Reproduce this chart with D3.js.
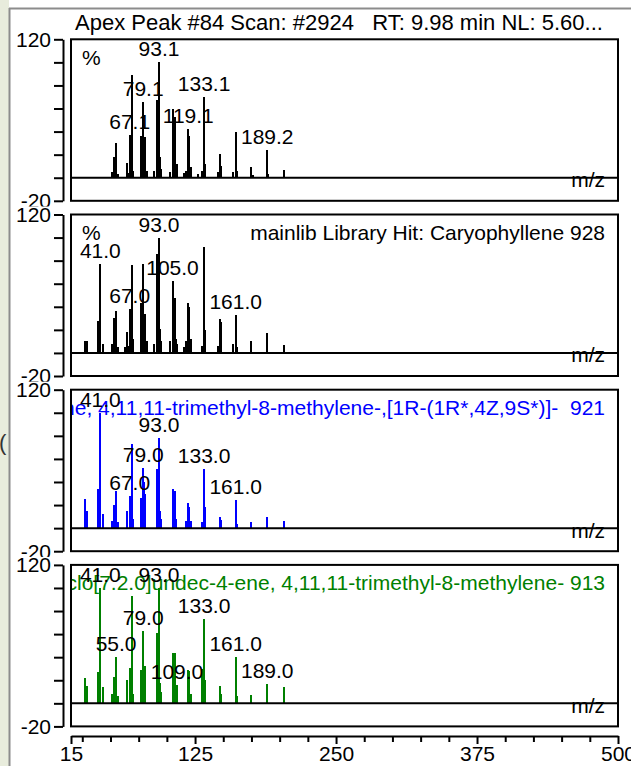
<!DOCTYPE html>
<html>
<head>
<meta charset="utf-8">
<script src="https://cdn.jsdelivr.net/npm/d3@7"></script>
<style>
  html, body { margin: 0; padding: 0; background: #fff; }
  svg { display: block; font-family: "Liberation Sans", Arial, sans-serif; }
</style>
</head>
<body>
<script>
// measured scan (apex peak #84)
const scanMz  = [51, 53, 55, 57, 65, 66, 67, 68, 69, 70, 77, 78, 79, 80, 81, 82, 89, 91, 92, 93, 94, 95,
                 103, 105, 106, 107, 108, 109, 115, 117, 119, 120, 121, 128, 131, 133, 134, 145, 147, 148,
                 159, 161, 162, 175, 176, 189, 190, 204, 205, 220, 243];
const scanInt = [5, 18, 30, 3, 13, 4, 37, 8, 89, 6, 36, 10, 66, 13, 35, 6, 6, 67, 14, 100, 18, 8,
                 5, 60, 12, 53, 7, 12, 4, 6, 42, 36, 9, 3, 6, 70, 12, 5, 21, 10,
                 5, 40, 6, 9, 2, 24, 3, 7, 1, 1, 1];
const scanLabels = ["67.1", "79.1", "93.1", "119.1", "133.1", "189.2"];

// mainlib hit: Caryophyllene
const libMz  = [27, 29, 39, 41, 43, 51, 53, 55, 57, 63, 65, 66, 67, 68, 69, 70, 77, 78, 79, 80, 81, 82,
                89, 91, 92, 93, 94, 95, 103, 105, 106, 107, 108, 109, 115, 117, 119, 120, 121,
                131, 133, 134, 145, 147, 148, 159, 161, 162, 175, 189, 204];
const libInt = [10, 10, 28, 77, 8, 8, 30, 36, 5, 5, 18, 6, 38, 12, 76, 12, 43, 12, 77, 28, 34, 10,
                8, 86, 22, 100, 21, 10, 10, 62, 20, 48, 12, 8, 5, 10, 43, 40, 12,
                6, 92, 20, 6, 29, 27, 8, 33, 5, 10, 17, 7];
const libLabels = ["41.0", "67.0", "93.0", "105.0", "161.0"];

// second hit (blue)
const hitAMz  = [27, 29, 39, 41, 43, 51, 53, 55, 57, 65, 67, 68, 69, 70, 77, 78, 79, 80, 81, 91, 92, 93, 94, 95,
                 105, 106, 107, 108, 117, 119, 120, 121, 131, 133, 134, 147, 148, 161, 162, 175, 189, 204];
const hitAInt = [25, 15, 34, 100, 12, 6, 20, 32, 5, 15, 28, 8, 73, 8, 26, 8, 52, 40, 30, 51, 14, 78, 15, 8,
                 34, 15, 32, 8, 6, 22, 18, 6, 5, 51, 18, 10, 7, 24, 4, 5, 10, 6];
const hitALabels = ["41.0", "67.0", "79.0", "93.0", "133.0", "161.0"];

// third hit (green)
const hitBMz  = [27, 29, 39, 41, 43, 51, 53, 55, 57, 65, 67, 68, 69, 70, 77, 78, 79, 80, 81, 91, 92, 93, 94, 95,
                 105, 106, 107, 108, 109, 119, 120, 121, 131, 133, 134, 147, 148, 161, 162, 175, 189, 204];
const hitBInt = [22, 15, 27, 100, 14, 8, 23, 40, 6, 20, 31, 10, 93, 8, 29, 10, 63, 30, 32, 61, 16, 100, 18, 10,
                 44, 14, 44, 10, 16, 29, 28, 8, 30, 73, 20, 15, 8, 40, 6, 7, 17, 14];
const hitBLabels = ["41.0", "55.0", "79.0", "93.0", "109.0", "133.0", "161.0", "189.0"];

const titleText = "Apex Peak #84 Scan: #2924   RT: 9.98 min NL: 5.60...";
const headers = [
  "",
  "mainlib Library Hit: Caryophyllene 928",
  "Bicyclo[7.2.0]undec-4-ene, 4,11,11-trimethyl-8-methylene-,[1R-(1R*,4Z,9S*)]-  921",
  "Bicyclo[7.2.0]undec-4-ene, 4,11,11-trimethyl-8-methylene- 913"
];
const colors = ["#000000", "#000000", "#0000ff", "#008000"];

const yTicks = [120, 100, 80, 60, 40, 20, 0, -20];
const yTickLabels = [120, -20];
const xTicks = [15, 25, 50, 75, 100, 125, 150, 175, 200, 225, 250, 275, 300, 325, 350, 375, 400, 425, 450, 475, 500];
const xTickLabels = [15, 125, 250, 375, 500];

const panels = [
  { mz: scanMz, inten: scanInt, labels: scanLabels },
  { mz: libMz, inten: libInt, labels: libLabels },
  { mz: hitAMz, inten: hitAInt, labels: hitALabels },
  { mz: hitBMz, inten: hitBInt, labels: hitBLabels }
];

const width = 631, height = 766;
const left = 71, right = 618, axisX = 63;
const panelTop0 = 39.3, panelStep = 175.2, panelH = 161.5;

const svg = d3.select("body").append("svg")
  .attr("width", width)
  .attr("height", height);

svg.append("rect").attr("width", width).attr("height", height).attr("fill", "#fff");

// window chrome at the left / top
svg.append("rect").attr("x", 0).attr("y", 0).attr("width", 9).attr("height", height).attr("fill", "#e8ecdc");
svg.append("line").attr("x1", 9.5).attr("x2", 9.5).attr("y1", 8).attr("y2", height)
  .attr("stroke", "#8c8c8c").attr("stroke-width", 2);
svg.append("line").attr("x1", 9).attr("x2", width).attr("y1", 8.5).attr("y2", 8.5)
  .attr("stroke", "#8c8c8c").attr("stroke-width", 2);
svg.append("text").attr("x", -1).attr("y", 450).attr("font-size", 22).attr("fill", "#333").text("(");

const x = d3.scaleLinear().domain([15, 500]).range([left, right]);

svg.append("text")
  .attr("x", 75).attr("y", 30)
  .attr("font-size", 22)
  .style("white-space", "pre")
  .text(titleText);

panels.forEach((p, i) => {
  const top = panelTop0 + i * panelStep;
  const y = d3.scaleLinear().domain([-20, 120]).range([top + panelH, top]);
  const g = svg.append("g");

  g.append("clipPath").attr("id", "clip" + i)
    .append("rect").attr("x", left).attr("y", top).attr("width", right - left).attr("height", panelH);

  const inner = g.append("g").attr("clip-path", `url(#clip${i})`);

  if (headers[i]) {
    inner.append("text")
      .attr("x", 605).attr("y", top + 25.5)
      .attr("text-anchor", "end")
      .attr("font-size", 21)
      .attr("fill", colors[i])
      .style("white-space", "pre")
      .text(headers[i]);
  }
  if (i < 2) {
    inner.append("text").attr("x", 82).attr("y", top + 25.5).attr("font-size", 21).text("%");
  }

  inner.append("g")
    .attr("stroke", colors[i])
    .attr("stroke-width", 2)
    .attr("shape-rendering", "crispEdges")
    .selectAll("line")
    .data(d3.zip(p.mz, p.inten))
    .join("line")
    .attr("x1", d => x(d[0])).attr("x2", d => x(d[0]))
    .attr("y1", y(0)).attr("y2", d => y(d[1]));

  inner.append("line")
    .attr("x1", left).attr("x2", right).attr("y1", y(0)).attr("y2", y(0))
    .attr("stroke", "#000").attr("stroke-width", 2);

  inner.append("text")
    .attr("x", 605).attr("y", y(0) + 9.5)
    .attr("text-anchor", "end").attr("font-size", 21)
    .text("m/z");

  inner.selectAll("text.lbl")
    .data(p.labels)
    .join("text")
    .attr("class", "lbl")
    .attr("x", d => x(Math.round(+d)))
    .attr("y", d => {
      const k = p.mz.indexOf(Math.round(+d));
      return y(p.inten[k]) - 6;
    })
    .attr("text-anchor", "middle")
    .attr("font-size", 21)
    .text(d => d);

  g.append("rect")
    .attr("x", left).attr("y", top).attr("width", right - left).attr("height", panelH)
    .attr("fill", "none").attr("stroke", "#000").attr("stroke-width", 2);

  const yAxis = g.append("g")
    .attr("transform", `translate(${axisX},0)`)
    .call(d3.axisLeft(y).tickValues(yTicks).tickSize(9).tickSizeOuter(0).tickFormat(""));
  yAxis.selectAll("path, line").attr("stroke", "#000").attr("stroke-width", 2);

  yTickLabels.forEach(v => {
    g.append("rect")
      .attr("x", 13).attr("y", y(v) - 8).attr("width", 38).attr("height", 15)
      .attr("fill", "#fff");
    g.append("text")
      .attr("x", 51).attr("y", y(v))
      .attr("dy", "0.35em")
      .attr("text-anchor", "end")
      .attr("font-size", 21)
      .text(v);
  });
});

const xAxis = svg.append("g")
  .attr("transform", "translate(0,736)")
  .call(d3.axisBottom(x).tickValues(xTicks).tickSize(7).tickSizeOuter(0)
    .tickFormat(d => xTickLabels.includes(d) ? d : ""));
xAxis.selectAll("path, line").attr("stroke", "#000").attr("stroke-width", 2);
xAxis.selectAll(".tick line").attr("y2", d => xTickLabels.includes(d) ? 8 : 6);
xAxis.selectAll("text")
  .attr("font-size", 21)
  .attr("font-family", "Liberation Sans, Arial, sans-serif")
  .attr("fill", "#000")
  .attr("y", 10);
</script>
</body>
</html>
